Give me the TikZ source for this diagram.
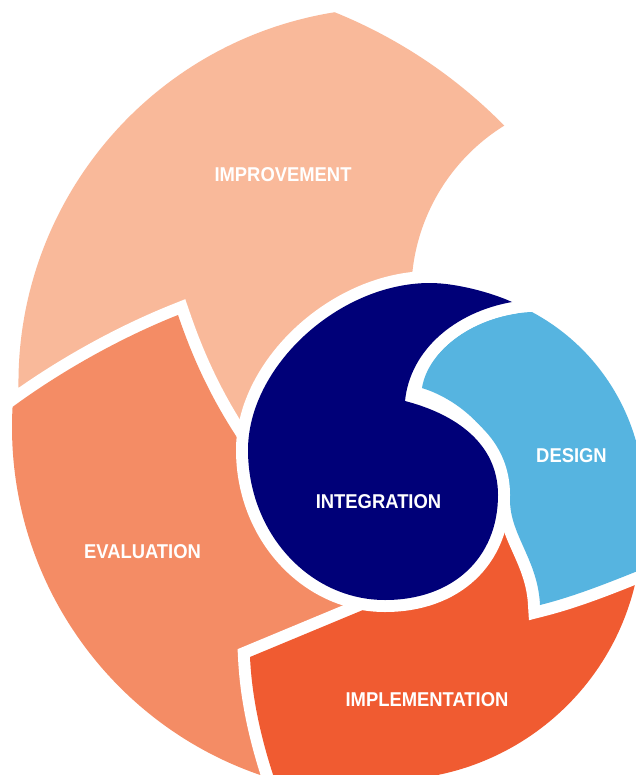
\documentclass[tikz,border=0pt]{standalone}
\usepackage{fontspec}
\newfontfamily\labfont[FakeStretch=0.92]{Liberation Sans}
\definecolor{cImp}{HTML}{F9B99A}
\definecolor{cEva}{HTML}{F48C65}
\definecolor{cImpl}{HTML}{F05B31}
\definecolor{cDes}{HTML}{56B4E0}
\definecolor{cNavy}{HTML}{000078}
\begin{document}
\begin{tikzpicture}[x=1pt,y=-1pt,
  halo/.style={preaction={draw=white,line width=24pt,line join=miter,miter limit=4}},
  lbl/.style={text=white,inner sep=0pt,font={\labfont\bfseries\fontsize{20}{24}\selectfont}}]
\useasboundingbox (0,0) rectangle (636,775);
\clip (0,0) rectangle (636,775);
% Improvement
\path[fill=cImp,halo] (19.4,409.2)
  arc[start angle=176, end angle=260.9, radius=375.5]
  arc[start angle=292, end angle=315.5, radius=501]
  arc[start angle=238.2, end angle=180, radius=196.5]
  -- (400,340) -- (300,460) -- (200,460) -- (60,440) -- cycle;
% Evaluation
\path[fill=cEva,halo] (12.5,407)
  .. controls (60,372) and (120,338) .. (178,315)
  .. controls (195,365) and (215,405) .. (242,445)
  -- (300,490) -- (340,560) -- (385,625) -- (300,700) -- (316.1,789.4)
  arc[start angle=100, end angle=183.1, radius=368]
  -- cycle;
% Implementation
\path[fill=cImpl,halo] (250,657) -- (363,610)
  -- (420,588) -- (490,500) -- (560,520) -- (650,545) -- (639.5,560.5)
  arc[start angle=8, end angle=95, radius=255]
  -- (280,795)
  .. controls (262,745) and (252,700) .. (250,657)
  -- cycle;
% Design
\path[fill=cDes,halo] (531.9,312)
  arc[start angle=298.1, end angle=370, radius=212]
  -- (660,562)
  .. controls (620,578) and (580,595) .. (540,605)
  .. controls (538,560) and (510,535) .. (510,500)
  .. controls (511,450) and (470,403) .. (422,388)
  .. controls (428,350) and (475,314) .. (531.9,312)
  -- cycle;
% Integration
\path[fill=cNavy,halo] (405,401)
  .. controls (410,350) and (455,312) .. (512,302)
  .. controls (490,292) and (455,283) .. (430,283)
  .. controls (339,283) and (248,366.5) .. (248,450)
  .. controls (248,532.8) and (309.3,600) .. (385,600)
  .. controls (452.8,600) and (498,558) .. (498,495)
  .. controls (498,443) and (455,414) .. (405,401)
  -- cycle;
\node[lbl] (improvement) at (283,175) {IMPROVEMENT};
\node[lbl] (evaluation) at (142.5,552) {EVALUATION};
\node[lbl] (integration) at (378.5,502) {INTEGRATION};
\node[lbl] (design) at (571.5,456) {DESIGN};
\node[lbl] (implementation) at (427,699.5) {IMPLEMENTATION};
\end{tikzpicture}
\end{document}
